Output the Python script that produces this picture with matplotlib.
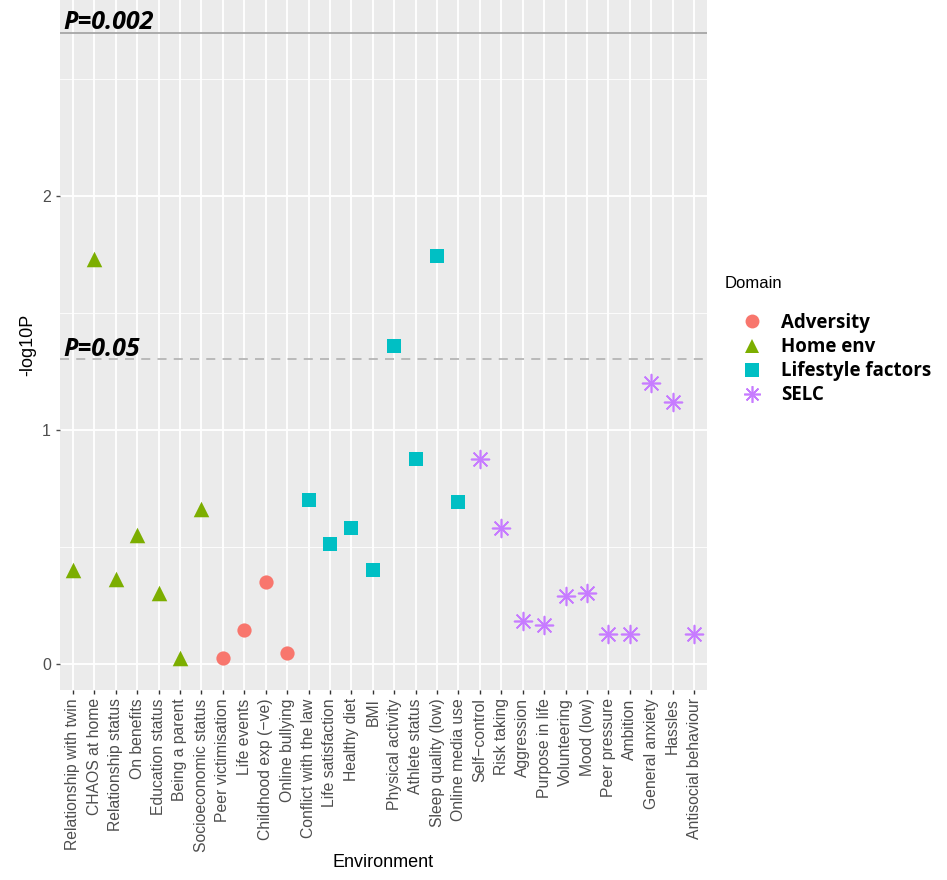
import matplotlib.pyplot as plt
import numpy as np
from matplotlib.lines import Line2D

# ---------------- data ----------------
environments = [
    "Relationship with twin", "CHAOS at home", "Relationship status", "On benefits",
    "Education status", "Being a parent", "Socioeconomic status", "Peer victimisation",
    "Life events", "Childhood exp (\u2212ve)", "Online bullying", "Conflict with the law",
    "Life satisfaction", "Healthy diet", "BMI", "Physical activity", "Athlete status",
    "Sleep quality (low)", "Online media use", "Self\u2212control", "Risk taking",
    "Aggression", "Purpose in life", "Volunteering", "Mood (low)", "Peer pressure",
    "Ambition", "General anxiety", "Hassles", "Antisocial behaviour",
]
domains = (["Home env"] * 7 + ["Adversity"] * 4 + ["Lifestyle factors"] * 8 + ["SELC"] * 11)
neglog10p = [
    0.40, 1.73, 0.36, 0.55, 0.30, 0.025, 0.66,
    0.025, 0.145, 0.35, 0.047,
    0.70, 0.51, 0.58, 0.40, 1.36, 0.875, 1.745, 0.69,
    0.875, 0.58, 0.18, 0.165, 0.29, 0.30, 0.125, 0.125, 1.20, 1.12, 0.125,
]
domain_order = ["Adversity", "Home env", "Lifestyle factors", "SELC"]
thresholds = [0.002, 0.05]

# ---------------- style ----------------
colors = {"Adversity": "#F8766D", "Home env": "#7CAE00",
          "Lifestyle factors": "#00BFC4", "SELC": "#C77CFF"}
markers = {"Adversity": "o", "Home env": "^", "Lifestyle factors": "s", "SELC": (8, 2, 0)}
sizes = {"Adversity": 105, "Home env": 125, "Lifestyle factors": 110, "SELC": 165}

plt.rcParams["font.family"] = ["Liberation Sans", "DejaVu Sans"]

fig = plt.figure(figsize=(9.47, 8.8), dpi=100, facecolor="white")
ax = fig.add_axes([60 / 947, 1 - 690 / 880, 647 / 947, 690 / 880])
ax.set_facecolor("#EBEBEB")

x = np.arange(len(environments))
y = np.array(neglog10p)
dom = np.array(domains)

for d in domain_order:
    m = dom == d
    lw = 1.2 if d == "SELC" else 0
    ax.scatter(x[m], y[m], s=sizes[d], marker=markers[d], color=colors[d],
               linewidths=lw, zorder=3)

# threshold lines
p_strict, p_nom = thresholds
ax.axhline(-np.log10(p_strict), color="#A6A6A6", linewidth=1.3, zorder=2)
ax.axhline(-np.log10(p_nom), color="#B5B5B5", linewidth=1.3, linestyle=(0, (5, 4)), zorder=2)
for p in thresholds:
    ax.text(-0.43, -np.log10(p) + 0.015, f"P={p}", fontsize=18,
            fontweight="bold", style="italic", family=["Open Sans", "DejaVu Sans"],
            ha="left", va="baseline", zorder=4)

ax.set_xlim(-0.6, len(environments) - 0.4)
ax.set_ylim(-0.113, 2.838)
ax.set_yticks([0, 1, 2])
ax.set_yticks([0.5, 1.5, 2.5], minor=True)
ax.set_xticks(x)
ax.set_xticklabels(environments, rotation=90, fontsize=11.3, color="#4D4D4D")
ax.tick_params(axis="y", labelsize=11.5, colors="#4D4D4D", length=3, width=1)
ax.tick_params(axis="x", length=3, width=1, color="#333333", pad=3)
ax.tick_params(axis="y", which="minor", length=0)
ax.grid(which="major", color="white", linewidth=1.3)
ax.grid(which="minor", axis="y", color="white", linewidth=0.6)
ax.set_axisbelow(True)
for s in ax.spines.values():
    s.set_visible(False)

ax.set_xlabel("Environment", fontsize=13, labelpad=2)
ax.set_ylabel("-log10P", fontsize=13, labelpad=4)

# legend
fig.text(725 / 947, 1 - 283 / 880, "Domain", fontsize=12, ha="left", va="center")
handles = []
for d in domain_order:
    handles.append(Line2D([0], [0], linestyle="none", marker=markers[d],
                          markersize=10 if d != "SELC" else 12,
                          markerfacecolor=colors[d], markeredgecolor=colors[d],
                          markeredgewidth=1.2 if d == "SELC" else 0))
leg = fig.legend(handles, domain_order, loc="upper left",
                 bbox_to_anchor=(724 / 947, 1 - 313 / 880), frameon=False,
                 borderpad=0, borderaxespad=0, labelspacing=0.22,
                 handletextpad=0.05, handlelength=3.0,
                 prop={"family": ["Open Sans", "DejaVu Sans"], "weight": "bold", "size": 13.5})

fig.savefig("out.png", dpi=100, facecolor="white")
